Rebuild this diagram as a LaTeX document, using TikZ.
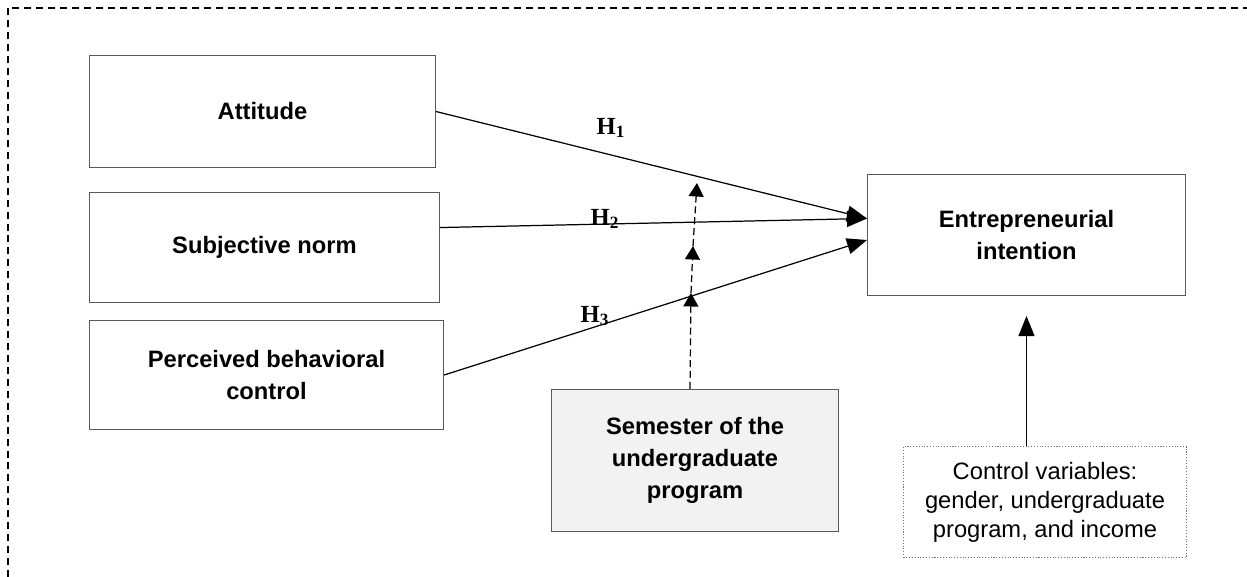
\documentclass[tikz,border=0pt]{standalone}
\usepackage{fontspec}
\setmainfont{Liberation Sans}
\newfontfamily\serifhyp{Liberation Serif}
\usetikzlibrary{arrows.meta,positioning}

\begin{document}
\begin{tikzpicture}[x=0.02cm,y=-0.02cm,
  box/.style={draw=black!65,line width=0.6pt,align=center,inner sep=0pt,font=\fontsize{13.5}{18}\selectfont\bfseries},
  modbox/.style={box,fill=black!5},
  ctrlbox/.style={draw=black!55,densely dotted,line width=0.6pt,align=center,inner sep=0pt,font=\fontsize{13.5}{16.5}\selectfont},
  hyp/.style={font=\serifhyp\fontsize{14}{16}\selectfont\bfseries,inner sep=0pt},
  hline/.style={line width=0.7pt,-{Triangle[length=0.4cm,width=0.32cm]}},
  modline/.style={line width=0.7pt,dash pattern=on 4pt off 2.2pt,-{Triangle[length=0.27cm,width=0.3cm]}},
  frame/.style={line width=0.8pt,dash pattern=on 4pt off 2.8pt}]
  \useasboundingbox (0,0) rectangle (1247,577);
  \draw[frame] (8,577) -- (8,8) -- (1247,8);

  \node[box,minimum width=6.92cm,minimum height=2.24cm,anchor=north west] (att) at (89,55) {Attitude};
  \node[box,minimum width=7cm,minimum height=2.2cm,below right=0.48cm and 0cm of att.south west] (subj) {Subjective norm};
  \node[box,minimum width=7.08cm,minimum height=2.18cm,below right=0.34cm and 0cm of subj.south west] (perc) {Perceived behavioral\\control};
  \node[box,minimum width=6.36cm,minimum height=2.42cm,anchor=north west] (intent) at (867,174) {Entrepreneurial\\intention};
  \node[modbox,minimum width=5.74cm,minimum height=2.84cm,anchor=north west] (sem) at (551,389) {Semester of the\\undergraduate\\program};
  \node[ctrlbox,minimum width=5.66cm,minimum height=2.22cm,anchor=north west] (ctrl) at (903,446) {Control variables:\\gender, undergraduate\\program, and income};

  \coordinate (in12) at ([yshift=0.33cm]intent.west);
  \coordinate (in3) at ([yshift=-0.1cm]intent.west);
  \coordinate (sn) at ([yshift=0.4cm]subj.east);
  \coordinate (m1) at (691,293);
  \coordinate (m2) at (693,246);
  \coordinate (m3) at (697,183);

  \draw[hline] (att.east) -- (in12);
  \draw[hline] (sn) -- (in12);
  \draw[hline] (perc.east) -- (in3);
  \draw[hline,shorten >=0.4cm] (ctrl.north -| intent.south) -- (intent.south);

  \draw[modline] ([xshift=-0.1cm]sem.north) -- (m1);
  \draw[modline] (m1) -- (m2);
  \draw[modline] (m2) -- (m3);

  \node[hyp] (h1) at (611,128) {H\textsubscript{1}};
  \node[hyp] (h2) at (605,219) {H\textsubscript{2}};
  \node[hyp] (h3) at (595,316) {H\textsubscript{3}};
\end{tikzpicture}
\end{document}
